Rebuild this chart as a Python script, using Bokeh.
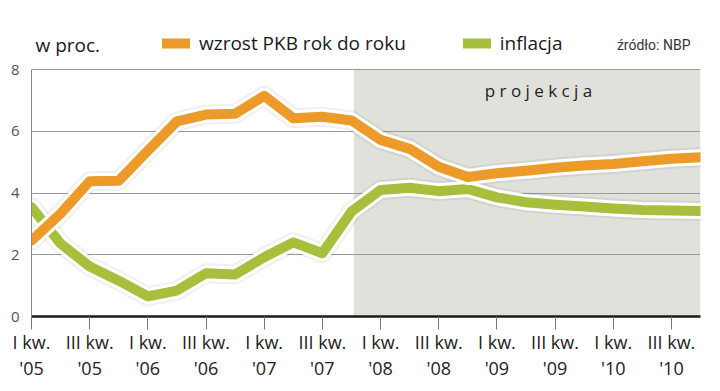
from bokeh.plotting import figure
from bokeh.models import (Range1d, BoxAnnotation, Label, Legend, LegendItem,
                          FixedTicker, ColumnDataSource)
from bokeh.embed import file_html
from bokeh.resources import INLINE

# ---- data ----
quarter_idx = list(range(24))  # I kw. '05 ... IV kw. '10
tick_idx = [0, 2, 4, 6, 8, 10, 12, 14, 16, 18, 20, 22]
tick_labels = ["I kw.\n'05", "III kw.\n'05", "I kw.\n'06", "III kw.\n'06",
               "I kw.\n'07", "III kw.\n'07", "I kw.\n'08", "III kw.\n'08",
               "I kw.\n'09", "III kw.\n'09", "I kw.\n'10", "III kw.\n'10"]
pkb = [2.46, 3.33, 4.38, 4.40, 5.37, 6.32, 6.54, 6.57, 7.15, 6.42, 6.47, 6.35,
       5.72, 5.43, 4.85, 4.52, 4.64, 4.72, 4.82, 4.89, 4.94, 5.03, 5.11, 5.16]
inflacja = [3.54, 2.36, 1.62, 1.16, 0.65, 0.84, 1.40, 1.36, 1.92, 2.40, 2.05, 3.40,
            4.10, 4.17, 4.06, 4.13, 3.86, 3.70, 3.62, 3.56, 3.50, 3.45, 3.43, 3.42]
y_ticks = [0, 2, 4, 6, 8]
y_max_value = 8
projection_start = 11.08

ORANGE = "#EC9A2A"
GREEN = "#A6C03E"
FONT = "Open Sans"

src = ColumnDataSource(dict(x=quarter_idx, pkb=pkb, inf=inflacja))

# frame extends above the "8" line so that the header texts sit inside it
p = figure(frame_width=669, frame_height=312, output_backend="svg",
           toolbar_location=None,
           x_range=Range1d(0, 23), y_range=Range1d(0, 312 / 30.875),
           min_border_left=31, min_border_right=12, min_border_top=4,
           min_border_bottom=0)
p.outline_line_color = None
p.background_fill_color = "white"

# projection shading
p.add_layout(BoxAnnotation(left=projection_start, top=y_max_value, bottom=0,
                           fill_color="#E1E1DB", fill_alpha=1.0,
                           line_color=None, level="image"))

# grid
p.xgrid.grid_line_color = None
p.ygrid.ticker = FixedTicker(ticks=y_ticks)
p.ygrid.grid_line_color = "#9a9a9a"
p.ygrid.grid_line_width = 1

# axes
p.xaxis.ticker = FixedTicker(ticks=tick_idx)
p.xaxis.major_label_overrides = {i: lab for i, lab in zip(tick_idx, tick_labels)}
p.xaxis.axis_line_color = "#1a1a1a"
p.xaxis.axis_line_width = 2.5
p.xaxis.major_tick_line_color = "#777777"
p.xaxis.major_tick_line_width = 1
p.xaxis.major_tick_out = 13
p.xaxis.major_tick_in = 0
p.xaxis.minor_tick_line_color = None
p.xaxis.major_label_standoff = 0
p.xaxis.major_label_text_font = FONT
p.xaxis.major_label_text_font_size = "18px"
p.xaxis.major_label_text_color = "#222222"
p.xaxis.major_label_text_line_height = 1.12

p.yaxis.ticker = FixedTicker(ticks=y_ticks)
p.yaxis.bounds = (0, y_max_value)
p.yaxis.axis_line_color = "#888888"
p.yaxis.axis_line_width = 1
p.yaxis.major_tick_line_color = None
p.yaxis.major_tick_out = 0
p.yaxis.major_tick_in = 0
p.yaxis.minor_tick_line_color = None
p.yaxis.major_label_standoff = 12
p.yaxis.major_label_text_font = FONT
p.yaxis.major_label_text_font_size = "15px"
p.yaxis.major_label_text_font_style = "normal"
p.yaxis.major_label_text_color = "#555555"

# lines with soft shadow and white outline
for col in ("inf", "pkb"):
    p.line("x", col, source=src, line_color="#000000", line_alpha=0.06,
           line_width=20, line_join="round", line_cap="round")
p.line("x", "inf", source=src, line_color="white", line_width=16,
       line_join="round", line_cap="round")
r_inf = p.line("x", "inf", source=src, line_color=GREEN, line_width=10,
               line_join="round", line_cap="round")
p.line("x", "pkb", source=src, line_color="white", line_width=16,
       line_join="round", line_cap="round")
r_pkb = p.line("x", "pkb", source=src, line_color=ORANGE, line_width=10,
               line_join="round", line_cap="round")

legend = Legend(items=[LegendItem(label="wzrost PKB rok do roku", renderers=[r_pkb]),
                       LegendItem(label="inflacja", renderers=[r_inf])],
                location=(131, 260), orientation="horizontal",
                glyph_width=28, glyph_height=12, label_standoff=9, spacing=57,
                padding=0, margin=0, border_line_alpha=0, background_fill_alpha=0,
                label_text_font=FONT, label_text_font_size="19px",
                label_text_color="#1a1a1a")
p.add_layout(legend)

p.add_layout(Label(x=4, y=272, x_units="screen", y_units="screen", text="w proc.",
                   text_font=FONT, text_font_size="19px", text_color="#1a1a1a",
                   text_baseline="middle", text_align="left"))
p.add_layout(Label(x=659, y=272, x_units="screen", y_units="screen",
                   text="źródło: NBP", text_font="Roboto", text_font_size="14px",
                   text_color="#333333", text_baseline="middle", text_align="right"))
p.add_layout(Label(x=507, y=226, x_units="screen", y_units="screen",
                   text="p r o j e k c j a", text_font=FONT, text_font_size="17px",
                   text_color="#222222", text_baseline="middle", text_align="center"))

open("out.html", "w").write(file_html(p, INLINE))
